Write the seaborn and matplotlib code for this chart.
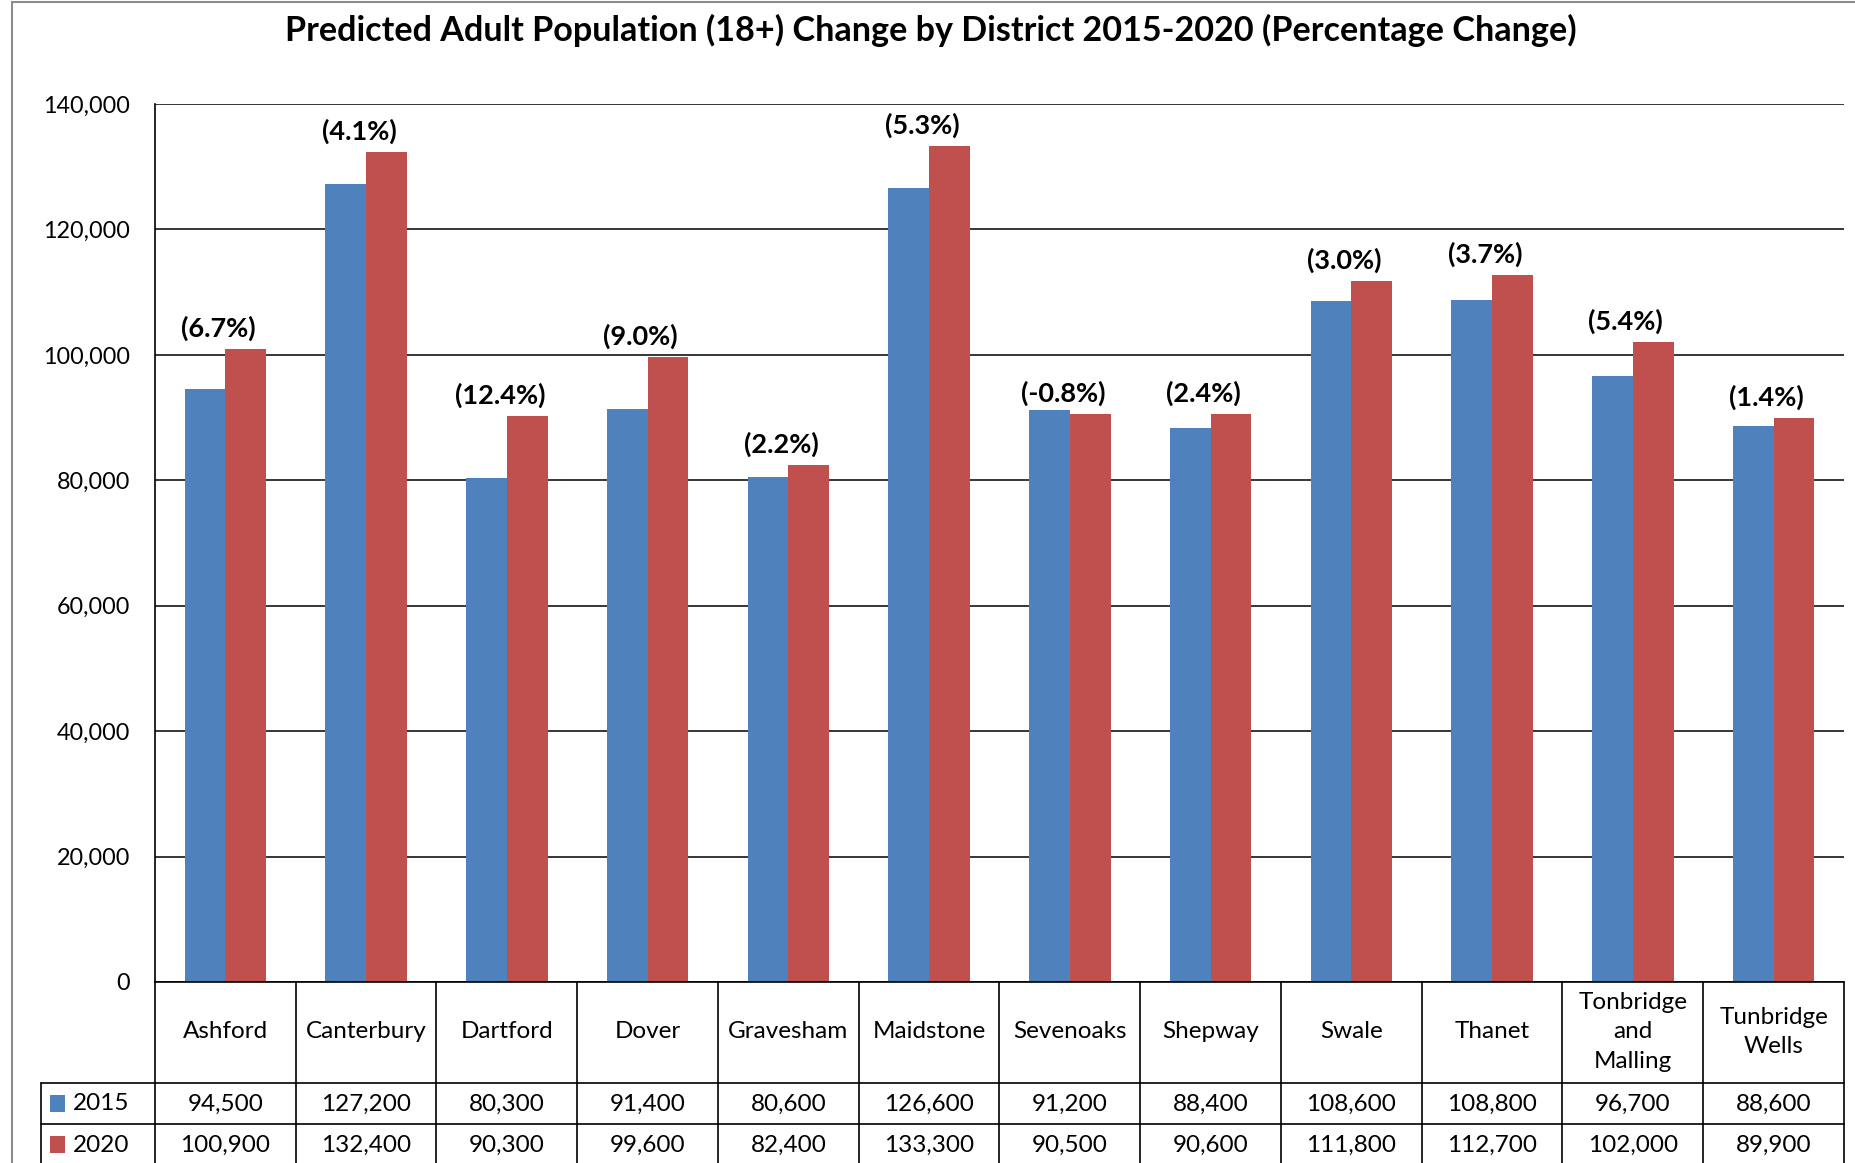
import numpy as np
import pandas as pd
import matplotlib
matplotlib.use("Agg")
import matplotlib.pyplot as plt
import matplotlib.transforms as mtransforms
from matplotlib.patches import Rectangle
from matplotlib.lines import Line2D
import seaborn as sns

# ---- data -------------------------------------------------------------
districts = ["Ashford", "Canterbury", "Dartford", "Dover", "Gravesham", "Maidstone",
             "Sevenoaks", "Shepway", "Swale", "Thanet", "Tonbridge and Malling",
             "Tunbridge Wells"]
district_labels = ["Ashford", "Canterbury", "Dartford", "Dover", "Gravesham", "Maidstone",
                   "Sevenoaks", "Shepway", "Swale", "Thanet", "Tonbridge\nand\nMalling",
                   "Tunbridge\nWells"]
pop_2015 = [94500, 127200, 80300, 91400, 80600, 126600, 91200, 88400, 108600, 108800,
            96700, 88600]
pop_2020 = [100900, 132400, 90300, 99600, 82400, 133300, 90500, 90600, 111800, 112700,
            102000, 89900]
pct_labels = ["(6.7%)", "(4.1%)", "(12.4%)", "(9.0%)", "(2.2%)", "(5.3%)", "(-0.8%)",
              "(2.4%)", "(3.0%)", "(3.7%)", "(5.4%)", "(1.4%)"]
years = ["2015", "2020"]
y_ticks = [0, 20000, 40000, 60000, 80000, 100000, 120000, 140000]
title = "Predicted Adult Population (18+) Change by District 2015-2020 (Percentage Change)"

BLUE = "#4F81BD"
RED = "#C0504D"

df = pd.DataFrame({
    "district": districts * 2,
    "year": ["2015"] * len(districts) + ["2020"] * len(districts),
    "population": pop_2015 + pop_2020,
})

# ---- figure -----------------------------------------------------------
sns.set_theme(style="white")
plt.rcParams["font.family"] = ["Lato", "DejaVu Sans"]

W, H, DPI = 1856, 1163, 100
fig = plt.figure(figsize=(W / DPI, H / DPI), dpi=DPI, facecolor="white")

AX_L, AX_R, AX_T, AX_B = 155, 1844, 104, 982
ax = fig.add_axes([AX_L / W, 1 - AX_B / H, (AX_R - AX_L) / W, (AX_B - AX_T) / H])

sns.barplot(data=df, x="district", y="population", hue="year", order=districts,
            hue_order=years, palette=[BLUE, RED], saturation=1, width=0.58,
            linewidth=0, legend=False, ax=ax)

ax.set_xlim(-0.5, len(districts) - 0.5)
ax.set_ylim(0, 140000)
ax.set_yticks(y_ticks)
ax.set_yticklabels([f"{v:,}" for v in y_ticks], fontsize=16.8, color="black")
ax.tick_params(axis="y", length=0, pad=18)
ax.set_xticks([])
ax.set_xlabel("")
ax.set_ylabel("")
ax.yaxis.grid(True, color="black", linewidth=1.1)
ax.set_axisbelow(True)
for side in ("top", "right"):
    ax.spines[side].set_visible(False)
for side in ("left", "bottom"):
    ax.spines[side].set_color("black")
    ax.spines[side].set_linewidth(1.2)

# percentage change labels above the 2020 bars
for i, (v, lab) in enumerate(zip(pop_2020, pct_labels)):
    ax.annotate(lab, xy=(i - 0.05, v), xytext=(0, 15), textcoords="offset points",
                ha="center", va="center", fontsize=19.5, fontweight="bold", color="black")

# ---- data table under the axis ----------------------------------------
def yax(px):
    return (AX_B - px) / (AX_B - AX_T)

def xax(px):
    return (px - AX_L) / (AX_R - AX_L)

trans = mtransforms.blended_transform_factory(ax.transData, ax.transAxes)
line_kw = dict(color="black", linewidth=1.2, clip_on=False)

y_cat_bot, y_r1_bot, y_r2_bot = yax(1083), yax(1124), yax(1166)
x_tab_left = xax(41)

for i in range(len(districts) + 1):
    ax.add_line(Line2D([i - 0.5, i - 0.5], [0, y_r2_bot], transform=trans, **line_kw))
for yy in (y_cat_bot, y_r1_bot, y_r2_bot):
    ax.add_line(Line2D([x_tab_left, 1], [yy, yy], transform=ax.transAxes, **line_kw))
ax.add_line(Line2D([x_tab_left, x_tab_left], [y_cat_bot, y_r2_bot],
                   transform=ax.transAxes, **line_kw))

TAB_FS = 17.5
for i, lab in enumerate(district_labels):
    ax.text(i, yax(1032), lab, transform=trans, ha="center", va="center",
            fontsize=TAB_FS, linespacing=1.5, color="black")
for i, (a, b) in enumerate(zip(pop_2015, pop_2020)):
    ax.text(i, yax(1104), f"{a:,}", transform=trans, ha="center", va="center",
            fontsize=TAB_FS, color="black")
    ax.text(i, yax(1145), f"{b:,}", transform=trans, ha="center", va="center",
            fontsize=TAB_FS, color="black")

for yr, col, yc in zip(years, [BLUE, RED], [1104, 1145]):
    fig.add_artist(Rectangle((50 / W, 1 - (yc + 8) / H), 15 / W, 17 / H,
                             transform=fig.transFigure, color=col, linewidth=0))
    ax.text(xax(73), yax(yc), yr, transform=ax.transAxes, ha="left", va="center",
            fontsize=TAB_FS, color="black")

# ---- title and outer frame --------------------------------------------
fig.text(931 / W, 1 - 30 / H, title, ha="center", va="center", fontsize=24.6,
         fontweight="bold", color="black")

frame_kw = dict(color="#8c8c8c", linewidth=1.5, transform=fig.transFigure)
fig.add_artist(Line2D([12 / W, 12 / W], [0, 1 - 2 / H], **frame_kw))
fig.add_artist(Line2D([12 / W, 1], [1 - 2 / H, 1 - 2 / H], **frame_kw))

fig.savefig("out.png", dpi=DPI, facecolor="white")
